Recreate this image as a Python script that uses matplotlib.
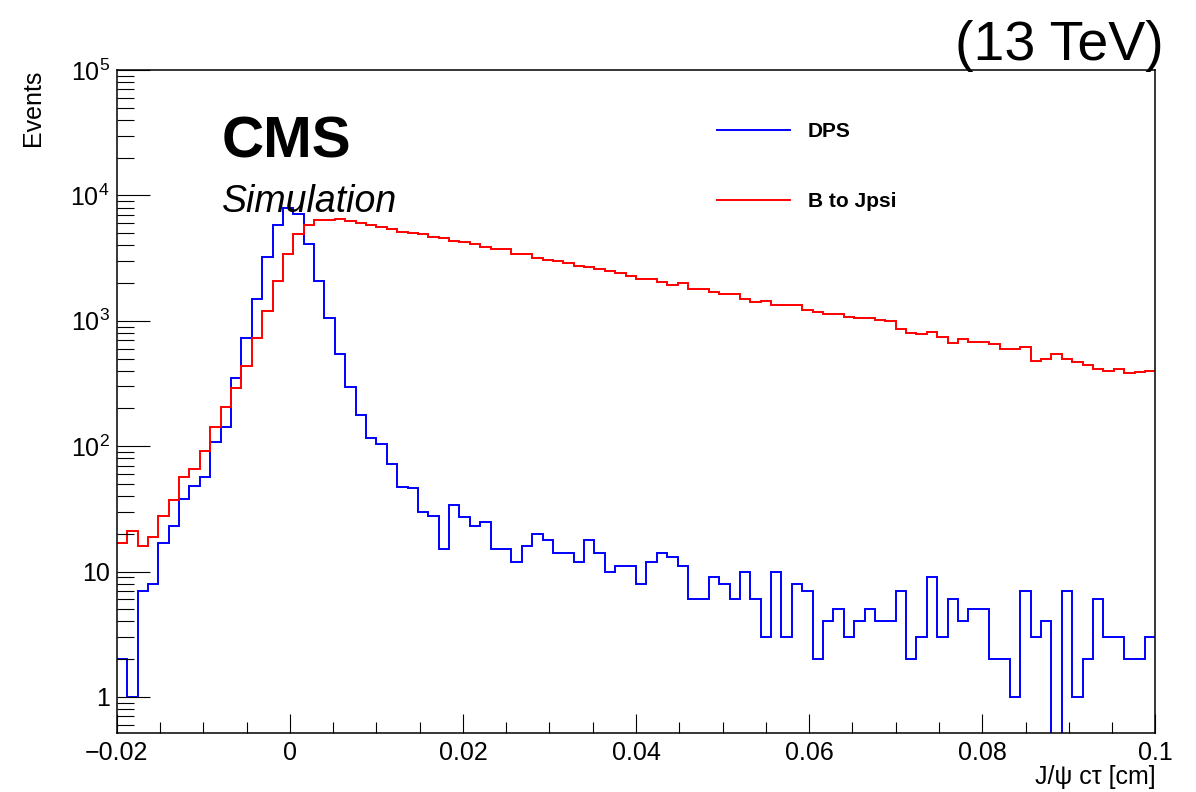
import numpy as np
import matplotlib
matplotlib.use("Agg")
import matplotlib.pyplot as plt
from matplotlib.ticker import LogLocator, FuncFormatter, MultipleLocator

plt.rcParams['font.family'] = ['Liberation Sans', 'DejaVu Sans']
plt.rcParams['mathtext.fontset'] = 'custom'
plt.rcParams['mathtext.rm'] = 'Liberation Sans'
plt.rcParams['mathtext.it'] = 'Liberation Sans:italic'
plt.rcParams['mathtext.bf'] = 'Liberation Sans:bold'

# binning: 100 bins from -0.02 to 0.1 cm
x_lo, x_hi, n_bins = -0.02, 0.1, 100

# DPS (blue), counts per bin
dps = [2, 1, 7, 8, 17, 23, 38, 48, 57, 107,
       142, 349, 734, 1504, 3205, 5794, 7943, 7060, 4110, 2090,
       1047, 543, 297, 178, 117, 105, 72, 47, 46, 30,
       28, 15, 34, 27, 23, 25, 15, 15, 12, 16,
       20, 18, 14, 14, 12, 18, 14, 10, 11, 11,
       8, 12, 14, 13, 11, 6, 6, 9, 8, 6,
       10, 6, 3, 10, 3, 8, 7, 2, 4, 5,
       3, 4, 5, 4, 4, 7, 2, 3, 9, 3,
       6, 4, 5, 5, 2, 2, 1, 7, 3, 4,
       0, 7, 1, 2, 6, 3, 3, 2, 2, 3]

# B to Jpsi (red), counts per bin
b_jpsi = [17, 21, 16, 19, 28, 37, 57, 66, 92, 142,
          205, 290, 439, 734, 1194, 2090, 3380, 4946, 5794, 6397,
          6397, 6520, 6200, 5988, 5835, 5625, 5357, 5100, 5010, 4890,
          4685, 4547, 4355, 4250, 4073, 3900, 3715, 3715, 3410, 3410,
          3150, 3053, 2980, 2873, 2735, 2671, 2588, 2500, 2392, 2277,
          2166, 2166, 2039, 1941, 1990, 1804, 1804, 1698, 1645, 1645,
          1483, 1404, 1445, 1336, 1336, 1336, 1226, 1169, 1140, 1140,
          1067, 1047, 1047, 1015, 990, 865, 804, 785, 809, 738,
          669, 720, 681, 681, 653, 596, 596, 614, 481, 493,
          543, 493, 469, 441, 410, 400, 410, 381, 391, 400]

xticks = [-0.02, 0, 0.02, 0.04, 0.06, 0.08, 0.1]
xtick_labels = ["\u22120.02", "0", "0.02", "0.04", "0.06", "0.08", "0.1"]


def ylab(v, pos):
    if v == 1:
        return "1"
    if v == 10:
        return "10"
    return "$10^{%d}$" % int(round(np.log10(v)))


edges = np.linspace(x_lo, x_hi, n_bins + 1)

fig = plt.figure(figsize=(11.96, 7.92), dpi=100)
ax = fig.add_axes([0.0976, 0.0745, 0.8684, 0.8371])

# empty bins are sent below the frame, like ROOT does on a log axis
blue = np.where(np.array(dps) > 0, dps, 1e-3)
red = np.array(b_jpsi, dtype=float)
ax.stairs(blue, edges, baseline=None, color='#0000ff', lw=1.4, label='DPS')
ax.stairs(red, edges, baseline=None, color='#ff0000', lw=1.4, label='B to Jpsi')

ax.set_yscale('log')
ax.set_xlim(x_lo, x_hi)
ax.set_ylim(0.516, 1e5)

ax.set_xticks(xticks, xtick_labels)
ax.xaxis.set_minor_locator(MultipleLocator(0.005))
ax.yaxis.set_major_locator(LogLocator(base=10, numticks=10))
ax.yaxis.set_minor_locator(LogLocator(base=10, subs=np.arange(2, 10), numticks=20))
ax.yaxis.set_major_formatter(FuncFormatter(ylab))
ax.yaxis.set_minor_formatter(FuncFormatter(lambda v, p: ""))

ax.tick_params(axis='both', which='both', direction='in', top=False, right=False,
               labelsize=18, width=0.8, colors='black')
ax.tick_params(axis='x', which='major', length=14, pad=6)
ax.tick_params(axis='x', which='minor', length=8)
ax.tick_params(axis='y', which='major', length=24, pad=5)
ax.tick_params(axis='y', which='minor', length=12)
for s in ax.spines.values():
    s.set_linewidth(1.1)

ax.set_ylabel('Events', fontsize=18, loc='top')
ax.yaxis.set_label_coords(-0.069, 1.0)
ax.set_xlabel('J/\u03c8 c\u03c4 [cm]', fontsize=18, loc='right')
ax.xaxis.set_label_coords(1.0, -0.049)

ax.text(0.101, 0.868, 'CMS', transform=ax.transAxes, fontsize=42,
        fontweight='bold', va='baseline', ha='left')
ax.text(0.101, 0.786, 'Simulation', transform=ax.transAxes, fontsize=27,
        fontstyle='italic', va='baseline', ha='left')
fig.text(0.973, 1 - 60 / 792, '(13 TeV)', fontsize=40, ha='right', va='baseline')

ax.legend(loc='upper left', bbox_to_anchor=(717 / 1196, 1 - 122 / 792),
          bbox_transform=fig.transFigure, frameon=False,
          prop={'weight': 'bold', 'size': 15}, handlelength=3.5,
          handletextpad=0.85, labelspacing=2.45, borderpad=0, borderaxespad=0)

fig.savefig('out.png', dpi=100)
